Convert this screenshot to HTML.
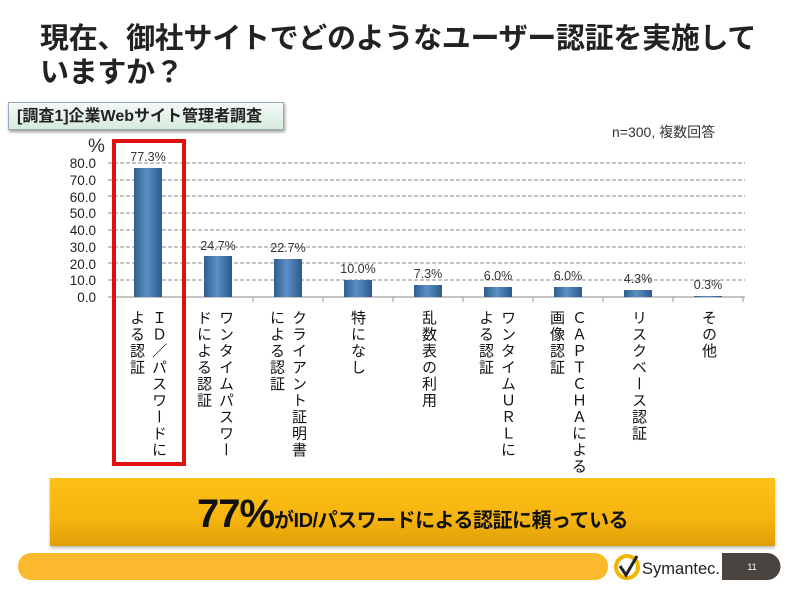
<!DOCTYPE html>
<html><head><meta charset="utf-8"><style>
body{margin:0;width:800px;height:596px;background:#fff;position:relative;overflow:hidden;font-family:"Liberation Sans","Noto Sans CJK JP",sans-serif}
.t{position:absolute;left:40px;top:22px;font-size:29px;font-weight:bold;line-height:34px;color:#222;letter-spacing:-0.3px}
.tag{position:absolute;left:8px;top:102px;width:276px;height:28px;background:linear-gradient(#f4faf6,#d6eadf);border:1px solid #9ab;box-shadow:1px 2px 3px #999;font-size:16px;font-weight:bold;line-height:28px;padding-left:8px;box-sizing:border-box;color:#222}
.n{position:absolute;left:612px;top:122px;font-size:14px;color:#333}
.lab{position:absolute;top:310px;writing-mode:vertical-rl;font-size:15px;line-height:22px;color:#111;letter-spacing:1.5px}
.ban{position:absolute;left:50px;top:478px;width:725px;height:68px;background:linear-gradient(#fdc218,#f5b40e 60%,#e0a008);box-shadow:0 2px 3px #bbb;text-align:center;font-size:20px;font-weight:bold;line-height:72px;color:#111;letter-spacing:-0.5px}
.ban b{font-size:40px;letter-spacing:-1px}
</style></head><body>
<div class="t">現在、御社サイトでどのようなユーザー認証を実施して<br>いますか？</div>
<div class="tag">[調査1]企業Webサイト管理者調査</div>
<div class="n">n=300, 複数回答</div>
<svg width="800" height="596" style="position:absolute;left:0;top:0" font-family="Liberation Sans,sans-serif">
<defs><linearGradient id="g" x1="0" x2="1"><stop offset="0" stop-color="#2f5e8f"/><stop offset="0.45" stop-color="#5b8fc6"/><stop offset="1" stop-color="#2c5a8a"/></linearGradient></defs>
<text x="88" y="152" font-size="19" fill="#333">%</text>
<g font-size="13.5" fill="#222" text-anchor="end">
<text x="96" y="168">80.0</text><text x="96" y="185">70.0</text><text x="96" y="202">60.0</text><text x="96" y="218">50.0</text><text x="96" y="235">40.0</text><text x="96" y="252">30.0</text><text x="96" y="269">20.0</text><text x="96" y="285">10.0</text><text x="96" y="302">0.0</text></g>
<g stroke="#888" stroke-dasharray="4,2">
<line x1="108" x2="745" y1="163" y2="163"/><line x1="108" x2="745" y1="180" y2="180"/><line x1="108" x2="745" y1="196" y2="196"/><line x1="108" x2="745" y1="213" y2="213"/><line x1="108" x2="745" y1="230" y2="230"/><line x1="108" x2="745" y1="247" y2="247"/><line x1="108" x2="745" y1="263" y2="263"/><line x1="108" x2="745" y1="280" y2="280"/></g>
<line x1="108" x2="745" y1="297" y2="297" stroke="#888"/>
<g stroke="#999"><line x1="113" x2="113" y1="297" y2="302"/><line x1="183" x2="183" y1="297" y2="302"/><line x1="253" x2="253" y1="297" y2="302"/><line x1="323" x2="323" y1="297" y2="302"/><line x1="393" x2="393" y1="297" y2="302"/><line x1="463" x2="463" y1="297" y2="302"/><line x1="533" x2="533" y1="297" y2="302"/><line x1="603" x2="603" y1="297" y2="302"/><line x1="673" x2="673" y1="297" y2="302"/><line x1="743" x2="743" y1="297" y2="302"/></g>
<g fill="url(#g)">
<rect x="134" y="168" width="28" height="129"/><rect x="204" y="256" width="28" height="41"/><rect x="274" y="259" width="28" height="38"/><rect x="344" y="280" width="28" height="17"/><rect x="414" y="285" width="28" height="12"/><rect x="484" y="287" width="28" height="10"/><rect x="554" y="287" width="28" height="10"/><rect x="624" y="290" width="28" height="7"/><rect x="694" y="296" width="28" height="1"/></g>
<g font-size="12.5" fill="#333" text-anchor="middle">
<text x="148" y="161">77.3%</text><text x="218" y="250">24.7%</text><text x="288" y="252">22.7%</text><text x="358" y="273">10.0%</text><text x="428" y="278">7.3%</text><text x="498" y="280">6.0%</text><text x="568" y="280">6.0%</text><text x="638" y="283">4.3%</text><text x="708" y="289">0.3%</text></g>
<rect x="114" y="141" width="70" height="323" fill="none" stroke="#e01010" stroke-width="4"/>
<rect x="18" y="553" width="590" height="27" rx="13" fill="#fbb92d"/>
<circle cx="627" cy="567" r="11" fill="none" stroke="#f5b400" stroke-width="4"/>
<path d="M620 566 l6 9 l11 -19" stroke="#222" stroke-width="3" fill="none"/>
<text x="642" y="574" font-size="17" fill="#222" textLength="78" lengthAdjust="spacingAndGlyphs">Symantec.</text>
<path d="M722 553 h45 a13 13 0 0 1 0 27 h-45z" fill="#4a4440"/>
<text x="752" y="570" font-size="9" fill="#fff" text-anchor="middle">11</text>
</svg>
<div class="lab" style="left:125px">ＩＤ／パスワードに<br>よる認証</div>
<div class="lab" style="left:192px">ワンタイムパスワー<br>ドによる認証</div>
<div class="lab" style="left:265px">クライアント証明書<br>による認証</div>
<div class="lab" style="left:346px">特になし</div>
<div class="lab" style="left:417px">乱数表の利用</div>
<div class="lab" style="left:474px">ワンタイムＵＲＬに<br>よる認証</div>
<div class="lab" style="left:545px">ＣＡＰＴＣＨＡによる<br>画像認証</div>
<div class="lab" style="left:627px">リスクベース認証</div>
<div class="lab" style="left:697px">その他</div>
<div class="ban"><b>77%</b>がID/パスワードによる認証に頼っている</div>
</body></html>
